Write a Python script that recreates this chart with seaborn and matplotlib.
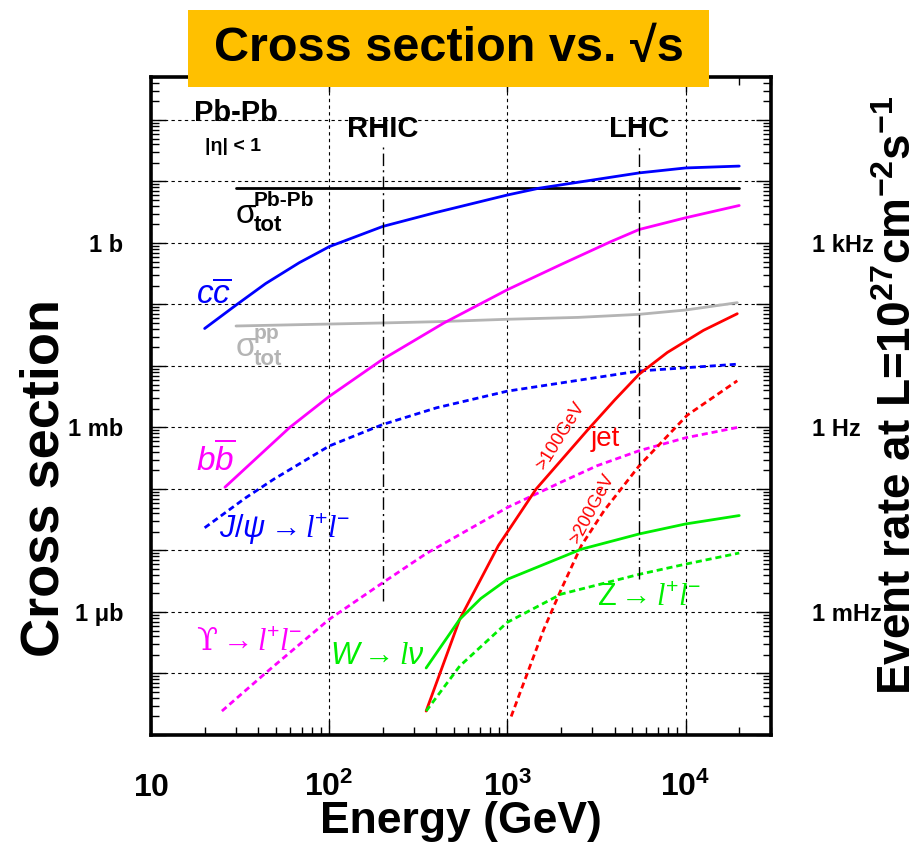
import matplotlib
matplotlib.use("Agg")
import matplotlib.pyplot as plt
import matplotlib.ticker as mticker
from matplotlib.patches import Rectangle
import numpy as np
import seaborn as sns

# values: energy in GeV, cross section in barn
pbpb_tot_e = [30, 20000]
pbpb_tot_s = [7.8, 7.8]

pp_tot_e = [30, 63, 200, 400, 1000, 2500, 5500, 10000, 14000, 19500]
pp_tot_s = [0.0447, 0.0468, 0.0501, 0.0525, 0.0575, 0.0617, 0.0692, 0.0813, 0.0933, 0.107]

ccbar_e = [20, 30, 44, 68, 100, 200, 390, 1000, 1500, 5500, 10000, 20000]
ccbar_s = [0.0407, 0.0977, 0.219, 0.479, 0.871, 1.86, 3.09, 6.03, 7.76, 13.8, 16.6, 17.8]

bbbar_e = [26, 60, 100, 200, 440, 1000, 2000, 3800, 5500, 10000, 20000]
bbbar_s = [1.07e-4, 1.0e-3, 3.2e-3, 0.0129, 0.050, 0.174, 0.447, 1.05, 1.66, 2.57, 4.07]

jpsi_e = [20, 34, 49, 100, 200, 400, 1000, 5500, 19500]
jpsi_s = [2.34e-5, 7.2e-5, 1.45e-4, 5.0e-4, 1.12e-3, 2.09e-3, 3.9e-3, 8.3e-3, 1.07e-2]

upsilon_e = [25, 44, 100, 200, 350, 1000, 2000, 3200, 5500, 10000, 19500]
upsilon_s = [2.45e-8, 1.02e-7, 7.6e-7, 3.0e-6, 8.9e-6, 5.0e-5, 1.29e-4, 2.4e-4, 4.2e-4, 6.8e-4, 1.0e-3]

jet100_e = [350, 540, 890, 1450, 2800, 4000, 5500, 7900, 12600, 19500]
jet100_s = [2.45e-8, 7.6e-7, 1.2e-5, 1.0e-4, 8.9e-4, 2.8e-3, 7.4e-3, 0.0166, 0.038, 0.0708]

jet200_e = [1050, 1600, 2000, 2600, 3500, 5500, 10200, 19500]
jet200_s = [2.0e-8, 5.2e-7, 2.3e-6, 1.2e-5, 4.5e-5, 2.4e-4, 1.58e-3, 5.75e-3]

w_e = [350, 540, 710, 1000, 2600, 5500, 10000, 20000]
w_s = [1.23e-7, 7.6e-7, 1.66e-6, 3.4e-6, 1.05e-5, 1.86e-5, 2.7e-5, 3.7e-5]

z_e = [350, 540, 1000, 2000, 5500, 10000, 20000]
z_s = [2.45e-8, 1.32e-7, 6.8e-7, 1.95e-6, 4.1e-6, 6.0e-6, 9.1e-6]

rhic_e = 200
lhc_e = 5500

x_ticks = [10, 100, 1000, 10000]
x_tick_labels = [r"$\mathbf{10}$", r"$\mathbf{10^{2}}$", r"$\mathbf{10^{3}}$", r"$\mathbf{10^{4}}$"]
y_label_vals = {1.0: "1 b", 1e-3: "1 mb", 1e-6: "1 μb"}
rate_ticks = [1e3, 1.0, 1e-3]
rate_labels = ["1 kHz", "1 Hz", "1 mHz"]

sns.set_theme(style="ticks")
plt.rcParams["font.family"] = ["Liberation Sans", "DejaVu Sans"]
plt.rcParams["text.color"] = "black"
plt.rcParams["axes.labelcolor"] = "black"
plt.rcParams["xtick.color"] = "black"
plt.rcParams["ytick.color"] = "black"
plt.rcParams["mathtext.fontset"] = "custom"
plt.rcParams["mathtext.rm"] = "Liberation Sans"
plt.rcParams["mathtext.it"] = "Liberation Sans:italic"
plt.rcParams["mathtext.bf"] = "Liberation Sans:bold"
plt.rcParams["mathtext.sf"] = "Liberation Sans"
plt.rcParams["mathtext.cal"] = "Liberation Serif:italic"

fig = plt.figure(figsize=(9.24, 8.51), dpi=100)
ax = fig.add_axes([151 / 924, 1 - 735 / 851, 619.6 / 924, 658 / 851])

dash = (0, (2.2, 1.4))
curves = [
    (pbpb_tot_e, pbpb_tot_s, "black", "-"),
    (pp_tot_e, pp_tot_s, "#b4b4b4", "-"),
    (ccbar_e, ccbar_s, "#0000ff", "-"),
    (bbbar_e, bbbar_s, "#ff00ff", "-"),
    (jpsi_e, jpsi_s, "#0000ff", dash),
    (upsilon_e, upsilon_s, "#ff00ff", dash),
    (jet100_e, jet100_s, "#ff0000", "-"),
    (jet200_e, jet200_s, "#ff0000", dash),
    (w_e, w_s, "#00ee00", "-"),
    (z_e, z_s, "#00ee00", dash),
]
for e, s, c, ls in curves:
    sns.lineplot(x=e, y=s, color=c, linestyle=ls, linewidth=2.0, ax=ax,
                 sort=False, estimator=None)

ax.set_xscale("log")
ax.set_yscale("log")
ax.set_xlim(10, 3e4)
ax.set_ylim(1e-8, 5e2)

# RHIC / LHC energies
ax.vlines([rhic_e], 1.5e-6, 37, colors="black", linestyles=[(0, (9, 3, 1.5, 3))], linewidth=1.0)
ax.vlines([lhc_e], 3.4e-6, 37, colors="black", linestyles=[(0, (9, 3, 1.5, 3))], linewidth=1.0)

# axes / ticks
ax.xaxis.set_major_locator(mticker.FixedLocator(x_ticks))
ax.xaxis.set_major_formatter(mticker.FixedFormatter(x_tick_labels))
ax.xaxis.set_minor_locator(mticker.LogLocator(base=10, subs=np.arange(2, 10), numticks=50))
ax.xaxis.set_minor_formatter(mticker.NullFormatter())
ax.yaxis.set_major_locator(mticker.LogLocator(base=10, numticks=50))
ax.yaxis.set_major_formatter(mticker.FuncFormatter(
    lambda v, p: next((t for k, t in y_label_vals.items() if abs(np.log10(v) - np.log10(k)) < 0.01), "")))
ax.yaxis.set_minor_locator(mticker.LogLocator(base=10, subs=np.arange(2, 10), numticks=50))
ax.yaxis.set_minor_formatter(mticker.NullFormatter())
ax.tick_params(which="both", direction="in", top=True, right=True, color="black", width=1.0)
ax.tick_params(which="major", length=11)
ax.tick_params(which="minor", length=6)
ax.tick_params(axis="x", which="major", pad=44, labelsize=23)
ax.tick_params(axis="y", which="major", pad=20, labelsize=17)
for t in ax.xaxis.get_major_ticks():
    t.label1.set_verticalalignment("baseline")
for lab in ax.get_yticklabels():
    lab.set_fontweight("bold")
ax.grid(True, which="major", color="black", linestyle=(0, (3, 3)), linewidth=0.8)
for sp in ax.spines.values():
    sp.set_linewidth(2.6)
    sp.set_color("black")

ax.set_xlabel("Energy (GeV)", fontsize=32, fontweight="bold")
ax.xaxis.set_label_coords(0.5, -0.100)
ax.set_ylabel("Cross section", fontsize=39, fontweight="bold")
ax.yaxis.set_label_coords(-0.132, 0.39)

sec = ax.secondary_yaxis("right", functions=(lambda s: s * 1e3, lambda r: r / 1e3))
sec.set_yticks(rate_ticks, labels=rate_labels)
sec.yaxis.set_minor_locator(mticker.NullLocator())
sec.tick_params(length=0, pad=30, labelsize=17)
for lab in sec.get_yticklabels():
    lab.set_fontweight("bold")
sec.spines["right"].set_visible(False)
fig.text(899 / 924, 1 - 395 / 851,
         r"Event rate at L=10$^{\mathbf{27}}$cm$^{\mathbf{-2}}$s$^{\mathbf{-1}}$",
         fontsize=33, fontweight="bold", rotation=90, ha="center", va="center")

# annotations
ax.text(17.4, 132, "Pb-Pb", fontsize=21, fontweight="bold", va="center", ha="left")
ax.text(20, 37, "|η| < 1", fontsize=14, fontweight="bold", va="center", ha="left")
ax.text(rhic_e, 71, "RHIC", fontsize=21, fontweight="bold", va="center", ha="center")
ax.text(lhc_e, 71, "LHC", fontsize=21, fontweight="bold", va="center", ha="center")

ax.text(30, 2.95, "σ", fontsize=24, va="center", ha="left")
ax.annotate("Pb-Pb", xy=(30, 2.95), xytext=(13, 3), textcoords="offset points",
            fontsize=15, fontweight="bold", va="bottom", ha="left")
ax.annotate("tot", xy=(30, 2.95), xytext=(13, -1), textcoords="offset points",
            fontsize=16, fontweight="bold", va="top", ha="left")
ax.text(30, 0.02, "σ", fontsize=24, va="center", ha="left", color="#b4b4b4")
ax.annotate("pp", xy=(30, 0.02), xytext=(13, 3), textcoords="offset points",
            fontsize=15, fontweight="bold", va="bottom", ha="left", color="#b4b4b4")
ax.annotate("tot", xy=(30, 0.02), xytext=(13, -1), textcoords="offset points",
            fontsize=16, fontweight="bold", va="top", ha="left", color="#b4b4b4")

ax.text(18, 0.138, r"$c\overline{c}$", fontsize=24, color="#0000ff", va="center", ha="left")
ax.text(18, 3.0e-4, r"$b\overline{b}$", fontsize=24, color="#ff00ff", va="center", ha="left")
ax.text(24, 2.24e-5, r"$J/\psi\rightarrow \mathcal{l}^{+}\mathcal{l}^{-}$", fontsize=22,
        color="#0000ff", va="center", ha="left")
ax.text(18, 3.2e-7, r"ϒ$\rightarrow \mathcal{l}^{+}\mathcal{l}^{-}$", fontsize=22,
        color="#ff00ff", va="center", ha="left", family=["DejaVu Serif"])
ax.text(345, 1.9e-7, r"$W\rightarrow \mathcal{l}\nu$", fontsize=22, color="#00ee00", va="center", ha="right")
ax.text(3200, 1.7e-6, r"Z$\rightarrow \mathcal{l}^{+}\mathcal{l}^{-}$", fontsize=22,
        color="#00ee00", va="center", ha="left")
ax.text(2950, 6.5e-4, "jet", fontsize=20, color="#ff0000", va="center", ha="left")
ax.text(2000, 7.2e-4, ">100GeV", fontsize=13, color="#ff0000", va="center", ha="center",
        rotation=58, rotation_mode="anchor")
ax.text(3000, 4.7e-5, ">200GeV", fontsize=13, color="#ff0000", va="center", ha="center",
        rotation=62, rotation_mode="anchor")

# title box
fig.add_artist(Rectangle((188 / 924, 1 - 87 / 851), 521 / 924, 77 / 851,
                         transform=fig.transFigure, facecolor="#ffc000", edgecolor="none", zorder=10))
fig.text(449 / 924, 1 - 49 / 851, "Cross section vs. √s", fontsize=35, fontweight="bold",
         ha="center", va="center", zorder=11)

fig.savefig("out.png", dpi=100)
